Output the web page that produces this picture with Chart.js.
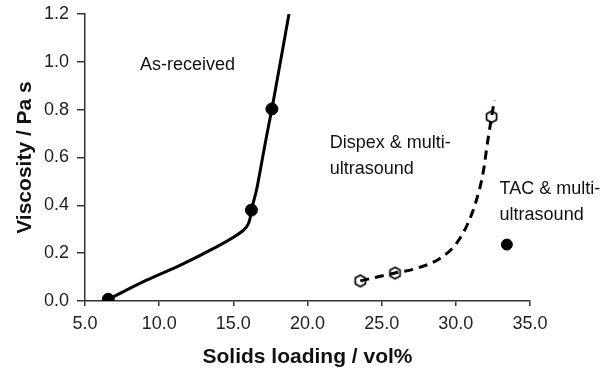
<!DOCTYPE html>
<html><head><meta charset="utf-8">
<script src="https://cdn.jsdelivr.net/npm/chart.js@4.4.0/dist/chart.umd.min.js"></script>
<style>html,body{margin:0;padding:0;background:#fff}#wrap{width:616px;height:371px}</style>
</head><body><div id="wrap"><canvas id="c" width="616" height="371"></canvas></div>
<script>
// Measured points
const asReceivedX = [6.57, 16.22, 17.6];
const asReceivedY = [0.007, 0.38, 0.803];
const dispexX = [23.56, 25.9, 32.41];
const dispexY = [0.084, 0.117, 0.77];
const tacX = [33.44];
const tacY = [0.236];
// Trend curves
const asCurveX = [6.57, 9.15, 11.4, 13.64, 15.21, 15.89, 16.1, 16.22, 16.56, 16.9, 17.23, 17.6, 18.75];
const asCurveY = [0.007, 0.087, 0.149, 0.219, 0.275, 0.31, 0.338, 0.38, 0.463, 0.575, 0.686, 0.803, 1.2];
const dxCurveX = [23.56, 25.9, 27.33, 28.9, 30.03, 30.81, 31.38, 31.83, 32.16, 32.41, 32.6];
const dxCurveY = [0.084, 0.117, 0.136, 0.177, 0.24, 0.324, 0.42, 0.533, 0.673, 0.77, 0.84];
const labels = [
  {lines:['As-received'], x:8.7, y:0.987},
  {lines:['Dispex & multi-','ultrasound'], x:21.5, y:0.66},
  {lines:['TAC & multi-','ultrasound'], x:32.95, y:0.468}
];

const zip = (xs, ys) => xs.map((x,i)=>({x, y: ys[i]}));
const FONT = '"Liberation Sans", Arial, sans-serif';

function hexagon(){
  const c = document.createElement('canvas');
  c.width = 15; c.height = 15;
  const g = c.getContext('2d');
  g.beginPath();
  for(let i=0;i<6;i++){
    const a = Math.PI/6 + i*Math.PI/3;
    const px = 7.5 + 5.8*Math.cos(a), py = 7.5 + 5.8*Math.sin(a);
    if(i===0) g.moveTo(px,py); else g.lineTo(px,py);
  }
  g.closePath();
  g.fillStyle = '#fff'; g.fill();
  g.lineWidth = 1.7; g.strokeStyle = '#000'; g.stroke();
  return c;
}

const textPlugin = {
  id:'texts',
  afterDatasetsDraw(chart){
    const {ctx, scales:{x, y}} = chart;
    ctx.save();
    ctx.font = '18px ' + FONT;
    ctx.fillStyle = '#111';
    ctx.textBaseline = 'middle';
    ctx.textAlign = 'left';
    labels.forEach(l => {
      l.lines.forEach((t,i) => ctx.fillText(t, x.getPixelForValue(l.x), y.getPixelForValue(l.y) + i*26));
    });
    ctx.restore();
  }
};

new Chart(document.getElementById('c'), {
  type:'line',
  data:{datasets:[
    {data: zip(asCurveX, asCurveY), borderColor:'#000', borderWidth:3, pointRadius:0, cubicInterpolationMode:'monotone', fill:false},
    {data: zip(dxCurveX, dxCurveY), borderColor:'#000', borderWidth:3, borderDash:[9,6], pointRadius:0, cubicInterpolationMode:'monotone', fill:false},
    {type:'scatter', data: zip(asReceivedX, asReceivedY), pointRadius:6, pointBackgroundColor:'#000', pointBorderColor:'#000', showLine:false},
    {type:'scatter', data: zip(dispexX, dispexY), pointStyle: hexagon(), showLine:false},
    {type:'scatter', data: zip(tacX, tacY), pointRadius:5.5, pointBackgroundColor:'#000', pointBorderColor:'#000', showLine:false}
  ]},
  options:{
    responsive:false, animation:false, devicePixelRatio:1,
    layout:{padding:{top:14, right:86, left:0, bottom:0}},
    plugins:{legend:{display:false}, tooltip:{enabled:false}},
    scales:{
      x:{type:'linear', min:5, max:35,
        ticks:{stepSize:5, callback:v=>v.toFixed(1), color:'#222', padding:7, maxRotation:0,
          font:{family:FONT, size:18}},
        grid:{drawOnChartArea:false, color:'#333', tickLength:5, lineWidth:1.5},
        border:{color:'#333', width:1.5},
        title:{display:true, text:'Solids loading / vol%', color:'#111', padding:{top:4, bottom:1},
          font:{family:FONT, size:21, weight:'bold'}},
        afterFit(s){ s.height = 70; s.paddingLeft = 0; s.paddingRight = 0; }
      },
      y:{type:'linear', min:0, max:1.2,
        ticks:{stepSize:0.2, callback:v=>v.toFixed(1), color:'#222', padding:8,
          font:{family:FONT, size:18}},
        grid:{drawOnChartArea:false, color:'#333', tickLength:8, lineWidth:1.5},
        border:{color:'#333', width:1.5},
        title:{display:true, text:'Viscosity / Pa s', color:'#111', padding:{top:13, bottom:2},
          font:{family:FONT, size:21, weight:'bold'}},
        afterFit(s){ s.width = 85; s.paddingTop = 0; s.paddingBottom = 0; }
      }
    }
  },
  plugins:[textPlugin]
});
</script></body></html>
